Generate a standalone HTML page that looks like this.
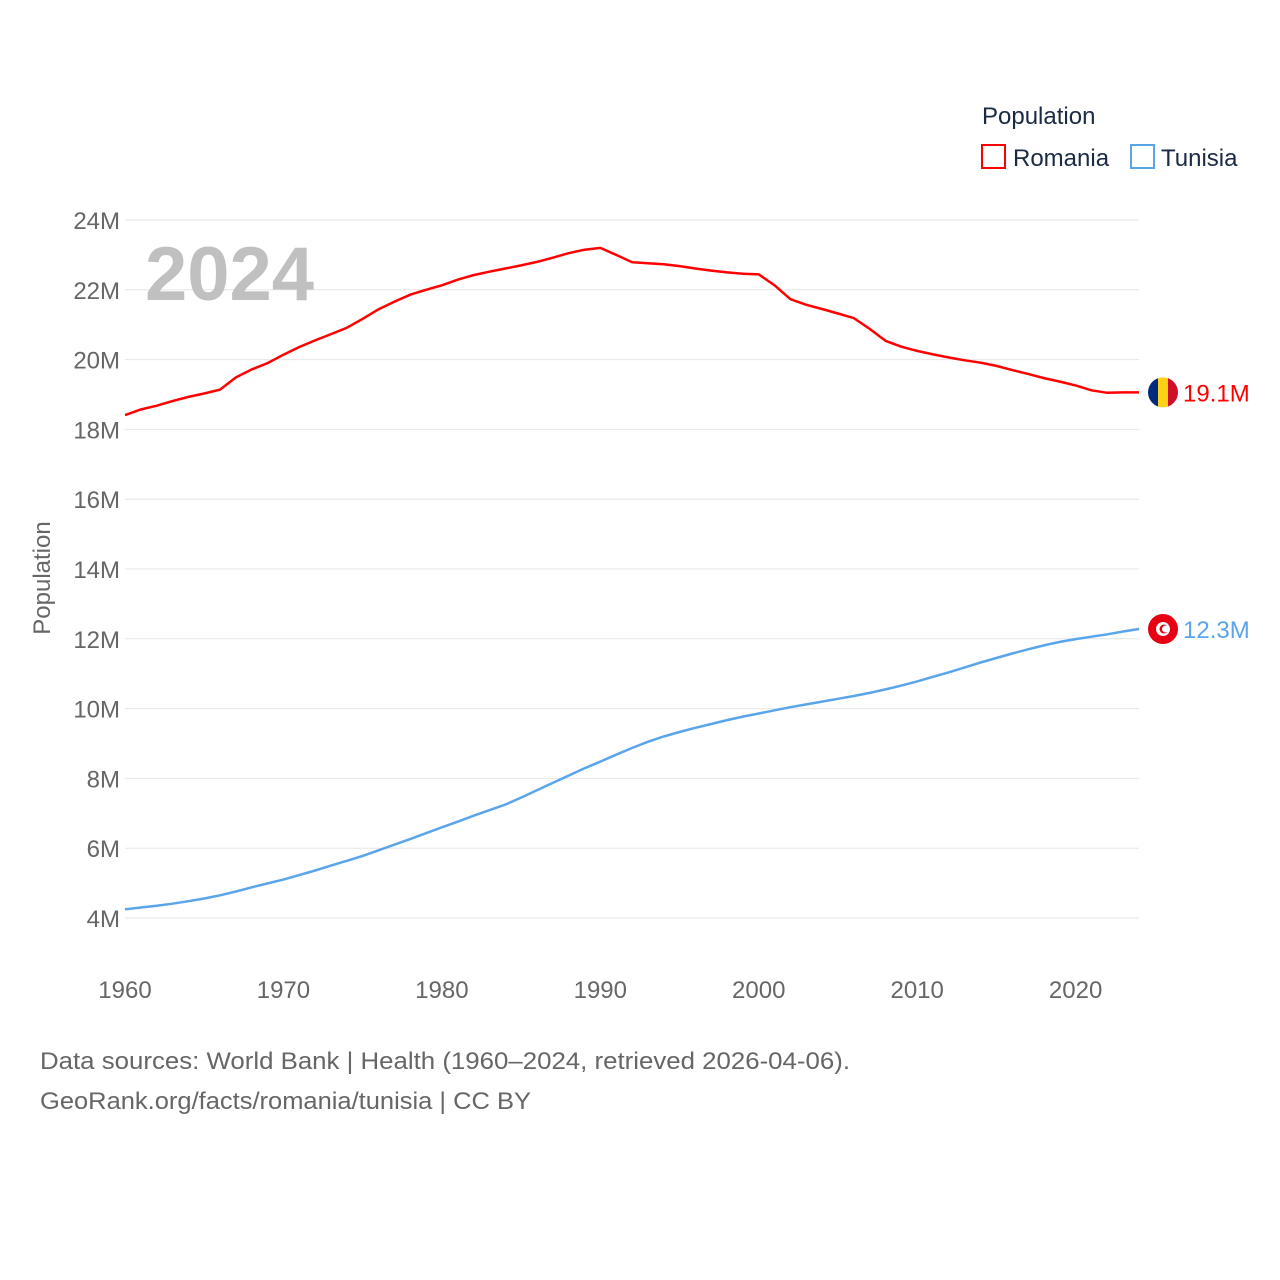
<!DOCTYPE html>
<html><head><meta charset="utf-8"><style>
html,body{margin:0;padding:0;background:#fff;width:1280px;height:1280px;overflow:hidden}
svg{display:block;font-family:"Liberation Sans",sans-serif}
</style></head><body>
<svg id="chart" width="1280" height="1280">
<text x="982" y="124" font-size="24" fill="#1a2a44">Population</text>
<g><rect x="982" y="145" width="23" height="23" fill="none" stroke="#ff0000" stroke-width="2"/><text x="1013" y="166" font-size="24" fill="#1a2a44">Romania</text></g>
<g><rect x="1131" y="145" width="23" height="23" fill="none" stroke="#5aa5ea" stroke-width="2"/><text x="1161" y="166" font-size="24" fill="#1a2a44">Tunisia</text></g>
<g id="grid"></g>
<text x="145" y="300" font-size="76" font-weight="bold" fill="#c0c0c0">2024</text>
<text transform="translate(50,578) rotate(-90)" text-anchor="middle" font-size="24" fill="#666">Population</text>
<g id="series"></g>
<text x="40" y="1069" font-size="24" fill="#666" textLength="810" lengthAdjust="spacingAndGlyphs">Data sources: World Bank | Health (1960–2024, retrieved 2026-04-06).</text>
<text x="40" y="1109" font-size="24" fill="#666" textLength="491" lengthAdjust="spacingAndGlyphs">GeoRank.org/facts/romania/tunisia | CC BY</text>
</svg>
<script>
const years=[];for(let y=1960;y<=2024;y++)years.push(y);
const romania=[18.41,18.57,18.68,18.81,18.93,19.03,19.14,19.49,19.72,19.9,20.14,20.36,20.55,20.73,20.91,21.17,21.44,21.66,21.86,22.0,22.13,22.29,22.42,22.52,22.61,22.7,22.8,22.92,23.05,23.15,23.2,23.0,22.79,22.76,22.73,22.68,22.61,22.55,22.5,22.46,22.44,22.13,21.73,21.57,21.45,21.32,21.19,20.88,20.54,20.37,20.25,20.15,20.06,19.98,19.91,19.82,19.7,19.59,19.47,19.37,19.26,19.12,19.05,19.06,19.06];
const tunisia=[4.25,4.3,4.35,4.41,4.48,4.56,4.65,4.76,4.88,4.99,5.1,5.23,5.36,5.5,5.64,5.78,5.94,6.1,6.26,6.43,6.6,6.76,6.93,7.09,7.25,7.45,7.66,7.87,8.08,8.29,8.48,8.68,8.87,9.05,9.2,9.33,9.45,9.56,9.67,9.77,9.86,9.95,10.04,10.12,10.2,10.28,10.36,10.45,10.55,10.66,10.78,10.91,11.04,11.18,11.32,11.45,11.58,11.7,11.81,11.91,11.99,12.06,12.13,12.21,12.28];
const yTicks=[4,6,8,10,12,14,16,18,20,22,24];
const xTicks=[1960,1970,1980,1990,2000,2010,2020];
const X=y=>125+(y-1960)*(1139-125)/64;
const Y=v=>918-(v-4)*(918-220)/20;
const NS="http://www.w3.org/2000/svg";
const g=document.getElementById('grid'),s=document.getElementById('series');
function mk(tag,at,p){const e=document.createElementNS(NS,tag);for(const k in at)e.setAttribute(k,at[k]);p.appendChild(e);return e;}
yTicks.forEach(v=>{
 const l=mk('line',{x1:125,x2:1139,y1:Y(v),y2:Y(v),stroke:'#e6e6e6','stroke-width':1},g);
 
 
 const t=mk('text',{x:120,y:Y(v)+9,'text-anchor':'end','font-size':24,fill:'#666'},g);t.textContent=v+'M';
 
 
});
xTicks.forEach(v=>{
 const t=mk('text',{x:X(v),y:998,'text-anchor':'middle','font-size':24,fill:'#666'},g);t.textContent=v;
 
 
});
function line(data,color,name){
 const p=mk('path',{d:data.map((v,i)=>(i?'L':'M')+X(years[i]).toFixed(1)+','+Y(v).toFixed(1)).join(''),fill:'none',stroke:color,'stroke-width':2.5},s);
 
 
}
line(romania,'#ff0000','romania-line');
line(tunisia,'#5aa5ea','tunisia-line');
const rl=romania[romania.length-1],tl=tunisia[tunisia.length-1];
const rf=mk('g',{},s);


const cp=mk('clipPath',{id:'rc'},rf);
mk('circle',{cx:1163,cy:Y(rl),r:15},cp);
mk('rect',{x:1148,y:Y(rl)-15,width:10,height:30,fill:'#002b7f','clip-path':'url(#rc)'},rf);
mk('rect',{x:1158,y:Y(rl)-15,width:10,height:30,fill:'#fcd116','clip-path':'url(#rc)'},rf);
mk('rect',{x:1168,y:Y(rl)-15,width:10,height:30,fill:'#ce1126','clip-path':'url(#rc)'},rf);
const rt=mk('text',{x:1183,y:Y(rl)+9,'font-size':24,fill:'#ff0000'},s);rt.textContent=rl.toFixed(1)+'M';


const tf=mk('g',{},s);


mk('circle',{cx:1163,cy:Y(tl),r:15,fill:'#e70013'},tf);
mk('circle',{cx:1163,cy:Y(tl),r:7,fill:'#fff'},tf);
mk('circle',{cx:1164,cy:Y(tl),r:4.5,fill:'#e70013'},tf);
mk('circle',{cx:1165.5,cy:Y(tl),r:3.5,fill:'#fff'},tf);
const tt=mk('text',{x:1183,y:Y(tl)+9,'font-size':24,fill:'#5aa5ea'},s);tt.textContent=tl.toFixed(1)+'M';


</script>
</body></html>
